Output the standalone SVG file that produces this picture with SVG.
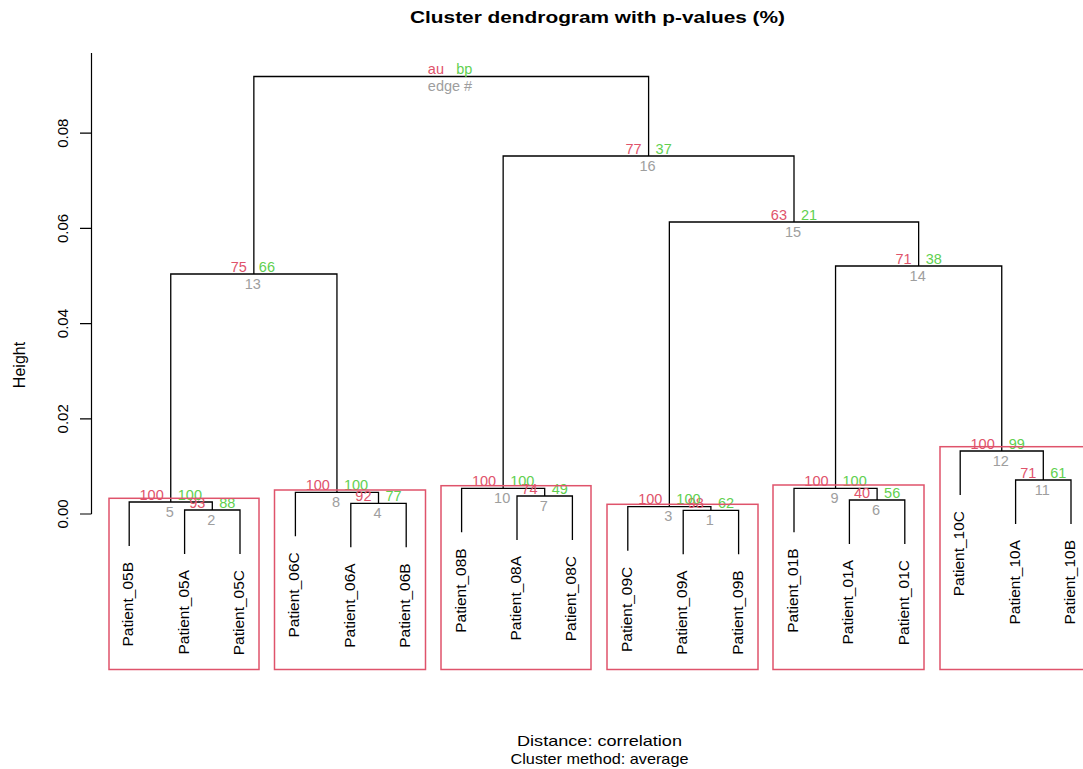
<svg xmlns="http://www.w3.org/2000/svg" width="1083" height="769" viewBox="0 0 1083 769">
<style>
text{font-family:"Liberation Sans",Arial,sans-serif}
.ln{stroke:#000;stroke-width:1.3;fill:none}
.ax{stroke:#000;stroke-width:1.2;fill:none}
.box{fill:none;stroke:#DF536B;stroke-width:1.5}
.au{fill:#DF536B;font-size:14.5px;text-anchor:end}
.bp{fill:#61D04F;font-size:14.5px;text-anchor:start}
.ed{fill:#9E9E9E;font-size:14.5px;text-anchor:middle}
.leaf{font-size:15.5px;text-anchor:end;fill:#000}
.tk{font-size:15px;text-anchor:middle;fill:#000}
.lab{font-size:16px;text-anchor:middle;fill:#000}
.title{font-size:17px;font-weight:bold;text-anchor:middle;fill:#000}
</style>
<rect width="1083" height="769" fill="#fff"/>
<text class="title" x="597.5" y="23" textLength="375" lengthAdjust="spacingAndGlyphs">Cluster dendrogram with p-values (%)</text>
<g id="axis">
<path class="ax" d="M91.5,53 V514 M80,514 H91.5 M80,418.8 H91.5 M80,323.6 H91.5 M80,228.4 H91.5 M80,133.2 H91.5"/>
<text class="tk" transform="translate(68,514) rotate(-90)">0.00</text>
<text class="tk" transform="translate(68,418.8) rotate(-90)">0.02</text>
<text class="tk" transform="translate(68,323.6) rotate(-90)">0.04</text>
<text class="tk" transform="translate(68,228.4) rotate(-90)">0.06</text>
<text class="tk" transform="translate(68,133.2) rotate(-90)">0.08</text>
<text class="lab" transform="translate(25,365) rotate(-90)">Height</text>
</g>
<g id="connectors">
<path class="ln" d="M129.2,546 V502 H212.3 V510"/>
<path class="ln" d="M184.6,554 V510 H240 V554"/>
<path class="ln" d="M295.4,536.3 V492.3 H378.5 V503.3"/>
<path class="ln" d="M350.8,547.3 V503.3 H406.2 V547.3"/>
<path class="ln" d="M461.6,532.3 V488.3 H544.7 V496"/>
<path class="ln" d="M517,540 V496 H572.4 V540"/>
<path class="ln" d="M627.8,550.7 V506.7 H710.9 V510.3"/>
<path class="ln" d="M683.2,554.3 V510.3 H738.6 V554.3"/>
<path class="ln" d="M794,532.3 V488.3 H877.1 V500"/>
<path class="ln" d="M849.4,544 V500 H904.8 V544"/>
<path class="ln" d="M960.2,495 V451 H1043.3 V480"/>
<path class="ln" d="M1015.6,524 V480 H1071 V524"/>
<path class="ln" d="M170.75,502 V274 H336.95 V492.3"/>
<path class="ln" d="M835.55,488.3 V266 H1001.75 V451"/>
<path class="ln" d="M669.35,506.7 V222 H918.65 V266"/>
<path class="ln" d="M503.15,488.3 V156 H794 V222"/>
<path class="ln" d="M253.85,274 V76.5 H648.6 V156"/>
</g>
<g id="leaves">
<g id="leaf-05B"><text class="leaf" transform="translate(133.2,562) rotate(-90)">Patient_05B</text></g>
<g id="leaf-05A"><text class="leaf" transform="translate(188.6,570) rotate(-90)">Patient_05A</text></g>
<g id="leaf-05C"><text class="leaf" transform="translate(244,570) rotate(-90)">Patient_05C</text></g>
<g id="leaf-06C"><text class="leaf" transform="translate(299.4,552.3) rotate(-90)">Patient_06C</text></g>
<g id="leaf-06A"><text class="leaf" transform="translate(354.8,563.3) rotate(-90)">Patient_06A</text></g>
<g id="leaf-06B"><text class="leaf" transform="translate(410.2,563.3) rotate(-90)">Patient_06B</text></g>
<g id="leaf-08B"><text class="leaf" transform="translate(465.6,548.3) rotate(-90)">Patient_08B</text></g>
<g id="leaf-08A"><text class="leaf" transform="translate(521,556) rotate(-90)">Patient_08A</text></g>
<g id="leaf-08C"><text class="leaf" transform="translate(576.4,556) rotate(-90)">Patient_08C</text></g>
<g id="leaf-09C"><text class="leaf" transform="translate(631.8,566.7) rotate(-90)">Patient_09C</text></g>
<g id="leaf-09A"><text class="leaf" transform="translate(687.2,570.3) rotate(-90)">Patient_09A</text></g>
<g id="leaf-09B"><text class="leaf" transform="translate(742.6,570.3) rotate(-90)">Patient_09B</text></g>
<g id="leaf-01B"><text class="leaf" transform="translate(798,548.3) rotate(-90)">Patient_01B</text></g>
<g id="leaf-01A"><text class="leaf" transform="translate(853.4,560) rotate(-90)">Patient_01A</text></g>
<g id="leaf-01C"><text class="leaf" transform="translate(908.8,560) rotate(-90)">Patient_01C</text></g>
<g id="leaf-10C"><text class="leaf" transform="translate(964.2,511) rotate(-90)">Patient_10C</text></g>
<g id="leaf-10A"><text class="leaf" transform="translate(1019.6,540) rotate(-90)">Patient_10A</text></g>
<g id="leaf-10B"><text class="leaf" transform="translate(1075,540) rotate(-90)">Patient_10B</text></g>
</g>
<g id="merges">
<g id="edge-1"><text class="au" x="703.9" y="507.8">98</text><text class="bp" x="717.9" y="507.8">62</text><text class="ed" x="709.9" y="524.8">1</text></g>
<g id="edge-2"><text class="au" x="205.3" y="507.5">93</text><text class="bp" x="219.3" y="507.5">88</text><text class="ed" x="211.3" y="524.5">2</text></g>
<g id="edge-3"><text class="au" x="662.35" y="504.2">100</text><text class="bp" x="676.35" y="504.2">100</text><text class="ed" x="668.35" y="521.2">3</text></g>
<g id="edge-4"><text class="au" x="371.5" y="500.8">92</text><text class="bp" x="385.5" y="500.8">77</text><text class="ed" x="377.5" y="517.8">4</text></g>
<g id="edge-5"><text class="au" x="163.75" y="499.5">100</text><text class="bp" x="177.75" y="499.5">100</text><text class="ed" x="169.75" y="516.5">5</text></g>
<g id="edge-6"><text class="au" x="870.1" y="497.5">40</text><text class="bp" x="884.1" y="497.5">56</text><text class="ed" x="876.1" y="514.5">6</text></g>
<g id="edge-7"><text class="au" x="537.7" y="493.5">74</text><text class="bp" x="551.7" y="493.5">49</text><text class="ed" x="543.7" y="510.5">7</text></g>
<g id="edge-8"><text class="au" x="329.95" y="489.8">100</text><text class="bp" x="343.95" y="489.8">100</text><text class="ed" x="335.95" y="506.8">8</text></g>
<g id="edge-9"><text class="au" x="828.55" y="485.8">100</text><text class="bp" x="842.55" y="485.8">100</text><text class="ed" x="834.55" y="502.8">9</text></g>
<g id="edge-10"><text class="au" x="496.15" y="485.8">100</text><text class="bp" x="510.15" y="485.8">100</text><text class="ed" x="502.15" y="502.8">10</text></g>
<g id="edge-11"><text class="au" x="1036.3" y="477.5">71</text><text class="bp" x="1050.3" y="477.5">61</text><text class="ed" x="1042.3" y="494.5">11</text></g>
<g id="edge-12"><text class="au" x="994.75" y="448.5">100</text><text class="bp" x="1008.75" y="448.5">99</text><text class="ed" x="1000.75" y="465.5">12</text></g>
<g id="edge-13"><text class="au" x="246.85" y="271.5">75</text><text class="bp" x="258.85" y="271.5">66</text><text class="ed" x="252.85" y="288.5">13</text></g>
<g id="edge-14"><text class="au" x="911.65" y="263.5">71</text><text class="bp" x="925.65" y="263.5">38</text><text class="ed" x="917.65" y="280.5">14</text></g>
<g id="edge-15"><text class="au" x="787" y="219.5">63</text><text class="bp" x="801" y="219.5">21</text><text class="ed" x="793" y="236.5">15</text></g>
<g id="edge-16"><text class="au" x="641.6" y="153.5">77</text><text class="bp" x="655.6" y="153.5">37</text><text class="ed" x="647.6" y="170.5">16</text></g>
<g id="root"><text class="au" x="444" y="74">au</text><text class="bp" x="456.2" y="74">bp</text><text class="ed" x="450" y="91">edge #</text></g>
</g>
<g id="clusters">
<rect class="box" x="109" y="498.3" width="150" height="171.2"/>
<rect class="box" x="274.5" y="490" width="151" height="179.5"/>
<rect class="box" x="441" y="485.7" width="150" height="183.8"/>
<rect class="box" x="607" y="504.3" width="151" height="165.2"/>
<rect class="box" x="773" y="485" width="151" height="184.5"/>
<rect class="box" x="940" y="446.7" width="151" height="222.8"/>
</g>
<g id="footer" xml:space="preserve">
<text class="tk" x="599.5" y="746" textLength="165" lengthAdjust="spacingAndGlyphs">Distance:  correlation</text>
<text class="tk" x="599.5" y="764" textLength="178" lengthAdjust="spacingAndGlyphs">Cluster method: average</text>
</g>
</svg>
